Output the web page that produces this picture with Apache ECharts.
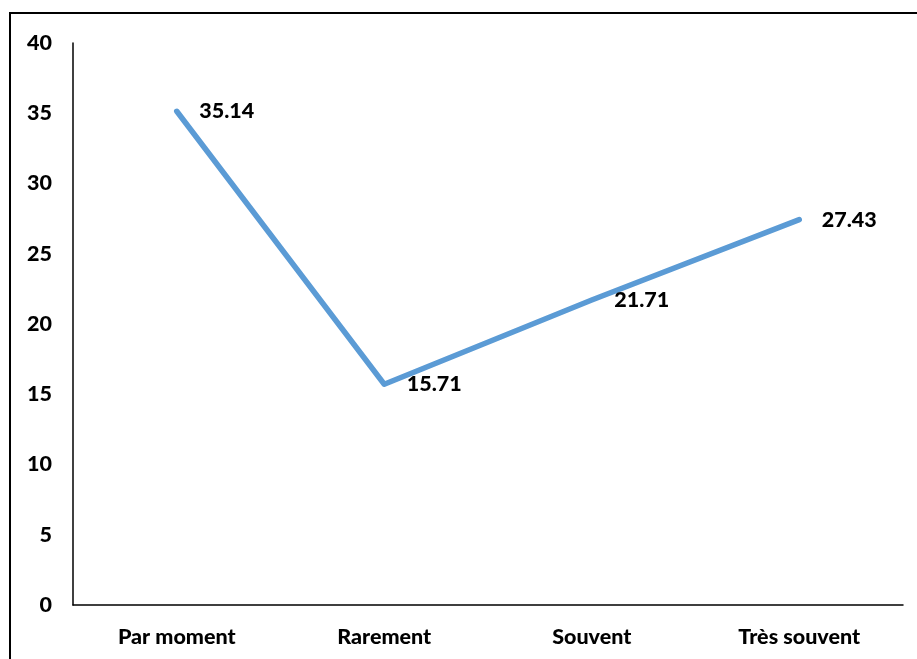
<!DOCTYPE html>
<html>
<head>
<meta charset="utf-8">
<script src="https://cdn.jsdelivr.net/npm/echarts@6/dist/echarts.min.js"></script>
<style>
  html, body { margin: 0; padding: 0; background: #fff; }
  #frame {
    position: absolute; left: 9px; top: 12px; width: 920px; height: 660px;
    border-left: 2px solid #000; border-top: 2px solid #000;
    box-sizing: border-box;
  }
  #chart { position: absolute; left: 0; top: 0; width: 917px; height: 659px; }
</style>
</head>
<body>
<div id="frame"></div>
<div id="chart"></div>
<script>
// Response categories and percentage values
const categories = ['Par moment', 'Rarement', 'Souvent', 'Très souvent'];
const values = [35.14, 15.71, 21.71, 27.43];
const yTicks = { min: 0, max: 40, interval: 5 };

const FONT = 'Lato, "Noto Sans", sans-serif';
const FS = 21.5;
const FW = 900;

const chart = echarts.init(document.getElementById('chart'), null, { renderer: 'canvas' });
chart.setOption({
  backgroundColor: 'transparent',
  animation: false,
  grid: { left: 73, top: 43, right: 14, bottom: 54, containLabel: false },
  xAxis: {
    type: 'category',
    data: categories,
    boundaryGap: true,
    axisLine: { show: true, lineStyle: { color: '#000', width: 1.5 } },
    axisTick: { show: false },
    axisLabel: { color: '#000', fontFamily: FONT, fontWeight: FW, fontSize: FS, margin: 21 }
  },
  yAxis: {
    type: 'value',
    min: yTicks.min, max: yTicks.max, interval: yTicks.interval,
    axisLine: { show: true, lineStyle: { color: '#000', width: 1.5 } },
    axisTick: { show: false },
    splitLine: { show: false },
    axisLabel: { color: '#000', fontFamily: FONT, fontWeight: FW, fontSize: FS, margin: 21 }
  },
  series: [{
    type: 'line',
    data: values,
    symbol: 'circle',
    symbolSize: 1,
    showSymbol: true,
    itemStyle: { color: '#5B9BD5' },
    lineStyle: { color: '#5B9BD5', width: 5.5, cap: 'round', join: 'round' },
    label: {
      show: true,
      position: 'right',
      distance: 22,
      color: '#000',
      fontFamily: FONT,
      fontWeight: FW,
      fontSize: FS,
      formatter: p => p.value.toFixed(2)
    }
  }]
});
</script>
</body>
</html>
